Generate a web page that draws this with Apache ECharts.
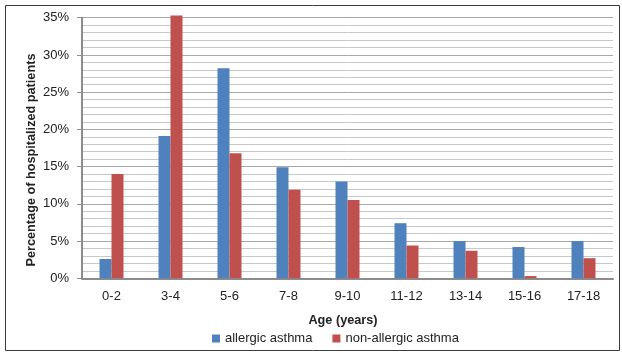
<!DOCTYPE html>
<html>
<head>
<meta charset="utf-8">
<script src="https://cdn.jsdelivr.net/npm/echarts@6/dist/echarts.min.js"></script>
<style>html,body{margin:0;padding:0;background:#fff;}#c{width:622px;height:353px;}</style>
</head>
<body>
<div id="c"></div>
<script>
const categories = ['0-2','3-4','5-6','7-8','9-10','11-12','13-14','15-16','17-18'];
const allergic = [2.6, 19.1, 28.2, 14.9, 13.0, 7.4, 5.0, 4.2, 5.0];
const nonAllergic = [14.0, 35.3, 16.8, 11.9, 10.5, 4.4, 3.7, 0.3, 2.7];
const yTicks = [0, 5, 10, 15, 20, 25, 30, 35];
const yTitle = 'Percentage of hospitalized patients';
const xTitle = 'Age (years)';

const font = "'Liberation Sans', Arial, sans-serif";
const chart = echarts.init(document.getElementById('c'));
chart.setOption({
  animation: false,
  backgroundColor: '#fff',
  textStyle: {fontFamily: font},
  graphic: [{
    type: 'rect', shape: {x: 5.5, y: 5.5, width: 614, height: 345},
    style: {fill: 'none', stroke: '#3a3a3a', lineWidth: 1}, z: -1
  }, {
    type: 'text', x: 31, y: 160, rotation: Math.PI / 2,
    style: {text: yTitle, align: 'center', verticalAlign: 'middle',
      font: "bold 12.7px 'Liberation Sans', Arial, sans-serif", fill: '#222'}
  }],
  grid: {left: 82, right: 9, top: 17.7, bottom: 74.7, containLabel: false},
  legend: {
    bottom: 3, left: 207, itemWidth: 8, itemHeight: 8, itemGap: 20,
    textStyle: {fontSize: 13, color: '#222', fontFamily: font},
    data: ['allergic asthma', 'non-allergic asthma'],
    icon: 'rect'
  },
  xAxis: {
    type: 'category', data: categories,
    name: xTitle, nameLocation: 'middle', nameGap: 36,
    nameTextStyle: {fontWeight: 'bold', fontSize: 12.7, color: '#222', padding: [0, 9, 0, 0]},
    axisLine: {lineStyle: {color: '#8c8c8c', width: 2}},
    axisTick: {show: false},
    axisLabel: {fontSize: 13, color: '#222', margin: 12}
  },
  yAxis: {
    type: 'value', min: 0, max: 35, interval: 5,
    axisLine: {show: true, lineStyle: {color: '#8c8c8c', width: 2}},
    axisTick: {show: true, length: 5, lineStyle: {color: '#8c8c8c'}},
    minorTick: {show: false, splitNumber: 5},
    axisLabel: {fontSize: 13, color: '#222', margin: 13,
      formatter: v => yTicks.includes(v) ? v + '%' : ''},
    splitLine: {show: true, lineStyle: {color: '#a8a8a8', width: 1}},
    minorSplitLine: {show: true, lineStyle: {color: '#c8c8c8', width: 1}}
  },
  series: [
    {name: 'allergic asthma', type: 'bar', data: allergic, barWidth: 12, barGap: '0%', clip: false,
      itemStyle: {color: '#4F81BD'}},
    {name: 'non-allergic asthma', type: 'bar', data: nonAllergic, barWidth: 12, clip: false,
      itemStyle: {color: '#C0504D'}}
  ]
});
</script>
</body>
</html>
